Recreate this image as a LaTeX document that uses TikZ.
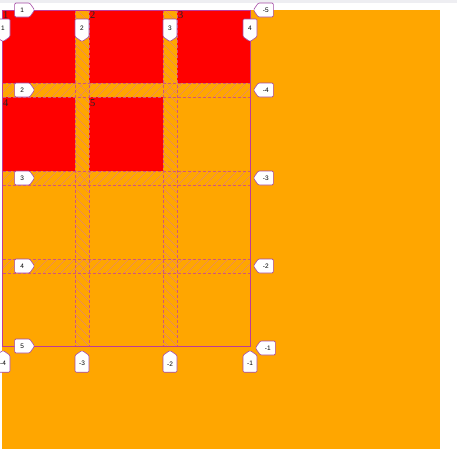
\documentclass[tikz,border=0pt]{standalone}
\usepackage{fontspec}
\setmainfont{Liberation Serif}
\newfontfamily\badgefont{Liberation Sans}
\usetikzlibrary{shapes.symbols}
\definecolor{bgorange}{HTML}{FFA600}
\definecolor{itemred}{HTML}{FF0000}
\definecolor{gridline}{RGB}{190,60,150}
\definecolor{gapline}{RGB}{208,88,122}
\definecolor{hatchcol}{RGB}{232,138,100}
\definecolor{badgeline}{RGB}{165,75,165}
\definecolor{topgray}{HTML}{EEEEF2}
\tikzset{
  item/.style={fill=itemred, draw=none},
  itemlbl/.style={font=\fontsize{10.5}{11}\selectfont, text=black!85, inner sep=0pt, anchor=north west},
  hatch/.style={draw=hatchcol, line width=0.5pt},
  gapedge/.style={draw=gapline, line width=0.6pt, dash pattern=on 3pt off 2pt},
  badge/.style={shape=signal, draw=badgeline, fill=white, line width=0.6pt,
    font=\badgefont\fontsize{6.5}{7}\selectfont, inner sep=0pt,
    signal pointer angle=110, rounded corners=1.2pt},
  rowbadge/.style={badge, signal to=east, minimum width=20pt, minimum height=14pt},
  negrowbadge/.style={badge, signal to=west, minimum width=20pt, minimum height=14pt},
  colbadge/.style={badge, signal to=south, minimum width=14pt, minimum height=19pt},
  negcolbadge/.style={badge, signal to=north, minimum width=14pt, minimum height=19pt},
}
\begin{document}
\begin{tikzpicture}[x=1pt,y=-1pt]
\useasboundingbox (0,0) rectangle (457,469);
\clip (0,0) rectangle (457,469);
\fill[white] (0,0) rectangle (457,469);
\fill[topgray] (0,0) rectangle (457,3);
% container
\fill[bgorange] (2,10) rectangle (440,449);
% items
\fill[item] (2.5,10) rectangle (75,83);
\fill[item] (89,10) rectangle (163,83);
\fill[item] (177,10) rectangle (250,83);
\fill[item] (2.5,97) rectangle (75,171);
\fill[item] (89,97) rectangle (163,171);
% horizontal gap hatching
\foreach \ya/\yb in {83/97,171/185,259/273}{
  \begin{scope}
    \clip (2.5,\ya) rectangle (250,\yb);
    \foreach \i in {-20,-11,...,260}{
      \draw[hatch] (\i,\yb) -- (\i+14,\ya);
    }
  \end{scope}
}
% vertical gap hatching
\foreach \xa/\xb in {75/89,163/177}{
  \begin{scope}
    \clip (\xa,10) rectangle (\xb,346);
    \foreach \t in {-10,-1,...,350}{
      \draw[hatch] (\xa,\t) -- (\xb,\t+14);
    }
  \end{scope}
}
% gap dashed edges
\foreach \y in {83,97,171,185,259,273}{
  \draw[gapedge] (2.5,\y) -- (250,\y);
}
\foreach \x in {75,89,163,177}{
  \draw[gapedge] (\x,10) -- (\x,346);
}
% grid outline
\draw[gridline, line width=0.7pt] (2.5,10) rectangle (250,346);
% item labels
\node[itemlbl] (t1) at (3,11) {1};
\node[itemlbl] (t2) at (90,11) {2};
\node[itemlbl] (t3) at (178,11) {3};
\node[itemlbl] (t4) at (3,99) {4};
\node[itemlbl] (t5) at (90,99) {5};
% row line badges (left)
\node[rowbadge, anchor=east] (r1) at (35,10) {1};
\node[rowbadge, anchor=east] (r2) at (35,90) {2};
\node[rowbadge, anchor=east] (r3) at (35,178) {3};
\node[rowbadge, anchor=east] (r4) at (35,266) {4};
\node[rowbadge, anchor=east] (r5) at (35,346) {5};
% negative row badges (right)
\node[negrowbadge, anchor=west] (n5) at (253,10) {-5};
\node[negrowbadge, anchor=west] (n4) at (253,90) {-4};
\node[negrowbadge, anchor=west] (n3) at (253,178) {-3};
\node[negrowbadge, anchor=west] (n2) at (253,266) {-2};
\node[negrowbadge, anchor=west] (n1) at (255,348) {-1};
% column badges (top)
\node[colbadge, anchor=south] (c1) at (3,42) {1};
\node[colbadge, anchor=south] (c2) at (82,42) {2};
\node[colbadge, anchor=south] (c3) at (170,42) {3};
\node[colbadge, anchor=south] (c4) at (250,42) {4};
% negative column badges (bottom)
\node[negcolbadge, anchor=north] (m4) at (3,350) {-4};
\node[negcolbadge, anchor=north] (m3) at (82,350) {-3};
\node[negcolbadge, anchor=north] (m2) at (170,350) {-2};
\node[negcolbadge, anchor=north] (m1) at (250,350) {-1};
\end{tikzpicture}
\end{document}
